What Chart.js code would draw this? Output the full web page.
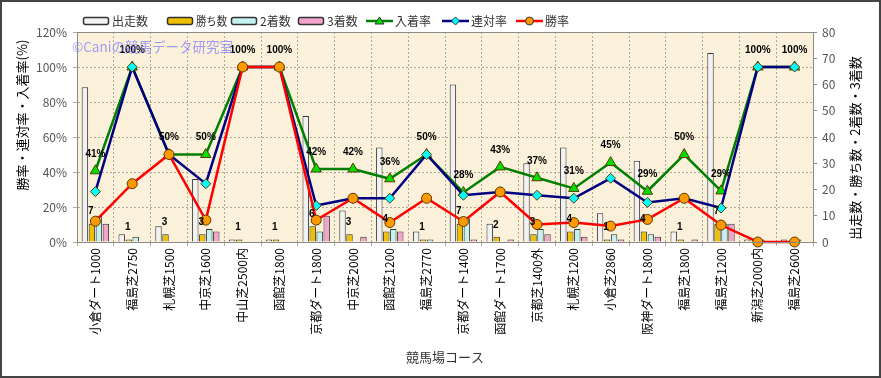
<!DOCTYPE html>
<html>
<head>
<meta charset="utf-8">
<script src="https://cdn.jsdelivr.net/npm/chart.js@4/dist/chart.umd.min.js"></script>
<style>
  html, body { margin: 0; padding: 0; background: #fff; }
  #wrap { width: 881px; height: 378px; }
</style>
</head>
<body>
<div id="wrap"><canvas id="raceChart" width="881" height="378"></canvas></div>
<script>
// ── コース別成績 ──
const courses = ['小倉ダート1000','福島芝2750','札幌芝1500','中京芝1600','中山芝2500内','函館芝1800','京都ダート1800','中京芝2000','函館芝1200','福島芝2770','京都ダート1400','函館ダート1700','京都芝1400外','札幌芝1200','小倉芝2860','阪神ダート1800','福島芝1800','福島芝1200','新潟芝2000内','福島芝2600'];
const starts  = [59, 3, 6, 24, 1, 1, 48, 12, 36, 4, 60, 7, 30, 36, 11, 31, 4, 72, 1, 1];
const wins    = [7, 1, 3, 3, 1, 1, 6, 3, 4, 1, 7, 2, 3, 4, 1, 4, 1, 7, 0, 0];
const seconds = [10, 2, 0, 5, 0, 0, 4, 0, 5, 1, 9, 0, 5, 5, 3, 3, 0, 7, 1, 1];
const thirds  = [7, 0, 0, 4, 0, 0, 10, 2, 4, 0, 1, 1, 3, 2, 1, 2, 1, 7, 0, 0];
const winRate   = [11.9, 33.3, 50, 12.5, 100, 100, 12.5, 25, 11.1, 25, 11.7, 28.6, 10, 11.1, 9.1, 12.9, 25, 9.7, 0, 0];
const rentaiRate = [28.8, 100, 50, 33.3, 100, 100, 20.8, 25, 25, 50, 26.7, 28.6, 26.7, 25, 36.4, 22.6, 25, 19.4, 100, 100];
const nyuchakuRate = [40.7, 100, 50, 50, 100, 100, 41.7, 41.7, 36.1, 50, 28.3, 42.9, 36.7, 30.6, 45.4, 29.0, 50, 29.2, 100, 100];
const pctTicks = [0, 20, 40, 60, 80, 100, 120];
const cntTicks = [0, 10, 20, 30, 40, 50, 60, 70, 80];

const JP = '"Noto Sans CJK JP", "Noto Sans", sans-serif';
Chart.defaults.font.family = JP;
Chart.defaults.color = '#333';

// plot background, axis titles, outer frame
const bgPlugin = {
  id: 'bg',
  beforeDraw(c) {
    const { ctx, chartArea: a } = c;
    ctx.save();
    ctx.fillStyle = '#fff';
    ctx.fillRect(0, 0, c.width, c.height);
    ctx.fillStyle = '#fbf1da';
    ctx.fillRect(a.left, a.top, a.right - a.left, a.bottom - a.top);
    ctx.restore();
  },
  afterDraw(c) {
    const { ctx, chartArea: a } = c;
    ctx.save();
    ctx.strokeStyle = '#8a8a8a'; ctx.lineWidth = 1;
    ctx.strokeRect(a.left + 0.5, a.top + 0.5, a.right - a.left, a.bottom - a.top);
    // axis titles
    ctx.fillStyle = '#000';
    ctx.font = '13px ' + JP;
    ctx.textAlign = 'center'; ctx.textBaseline = 'middle';
    ctx.save(); ctx.translate(22, 115); ctx.rotate(-Math.PI / 2);
    ctx.fillText('勝率・連対率・入着率(%)', 0, 0); ctx.restore();
    ctx.save(); ctx.translate(855, 148); ctx.rotate(-Math.PI / 2);
    ctx.fillText('出走数・勝ち数・2着数・3着数', 0, 0); ctx.restore();
    ctx.fillStyle = '#333';
    ctx.fillText('競馬場コース', 445, 357);
    ctx.strokeStyle = '#444'; ctx.lineWidth = 2;
    ctx.strokeRect(1, 1, c.width - 2, c.height - 2);
    ctx.restore();
  }
};

// data labels + watermark
const labelPlugin = {
  id: 'labels',
  afterDatasetsDraw(c) {
    const ctx = c.ctx;
    ctx.save();
    ctx.fillStyle = '#000';
    ctx.textAlign = 'center';
    ctx.textBaseline = 'middle';
    ctx.font = 'bold 10px "Liberation Sans", sans-serif';
    const winMeta = c.getDatasetMeta(1);
    wins.forEach((w, i) => {
      if (!w) return;
      const el = winMeta.data[i];
      ctx.fillText(String(w), el.x - 1, el.y - 12);
    });
    const nMeta = c.getDatasetMeta(4);
    nyuchakuRate.forEach((r, i) => {
      const el = nMeta.data[i];
      ctx.fillText(Math.round(r) + '%', el.x, el.y - 17);
    });
    ctx.font = '13.5px ' + JP;
    ctx.textAlign = 'left';
    ctx.fillStyle = 'rgba(120,120,255,0.7)';
    ctx.fillText('©Caniの競馬データ研究室', 72, 47);
    ctx.restore();
  }
};

// legend along the top
const legendPlugin = {
  id: 'topLegend',
  afterDraw(c) {
    const ctx = c.ctx;
    const y = 21;
    const items = [
      { t: '出走数', box: '#f2f2f2', x: 83 },
      { t: '勝ち数', box: '#f0c000', x: 167 },
      { t: '2着数', box: '#c4f2f0', x: 231 },
      { t: '3着数', box: '#f2a4cc', x: 298 },
      { t: '入着率', line: '#008000', pt: 'tri', fill: '#00e000', x: 366 },
      { t: '連対率', line: '#000080', pt: 'dia', fill: '#00ffff', x: 442 },
      { t: '勝率', line: '#ff0000', pt: 'cir', fill: '#ff9900', x: 516 },
      { x: 580 }
    ];
    ctx.save();
    ctx.font = '12px ' + JP;
    ctx.textBaseline = 'middle';
    items.forEach((it, k) => {
      if (!it.t) return;
      if (it.box) {
        ctx.fillStyle = it.box; ctx.strokeStyle = '#333'; ctx.lineWidth = 1.5;
        ctx.beginPath();
        ctx.roundRect(it.x + 0.5, y - 3.5, 25, 7, 2);
        ctx.fill(); ctx.stroke();
      } else {
        ctx.strokeStyle = it.line; ctx.lineWidth = 2.5;
        ctx.beginPath(); ctx.moveTo(it.x, y); ctx.lineTo(it.x + 27, y); ctx.stroke();
        const cx = it.x + 13.5;
        ctx.fillStyle = it.fill; ctx.strokeStyle = '#333'; ctx.lineWidth = 1;
        ctx.beginPath();
        if (it.pt === 'tri') { ctx.moveTo(cx, y - 4); ctx.lineTo(cx + 4.5, y + 3); ctx.lineTo(cx - 4.5, y + 3); ctx.closePath(); }
        else if (it.pt === 'dia') { ctx.moveTo(cx, y - 4); ctx.lineTo(cx + 4, y); ctx.lineTo(cx, y + 4); ctx.lineTo(cx - 4, y); ctx.closePath(); }
        else { ctx.arc(cx, y, 4, 0, Math.PI * 2); }
        ctx.fill(); ctx.stroke();
      }
      const tx = it.x + 29;
      ctx.fillStyle = '#333';
      ctx.fillText(it.t, tx, y, items[k + 1].x - tx - 4);
    });
    ctx.restore();
  }
};

const barDs = (label, data, color, order) => ({
  type: 'bar', label, data, yAxisID: 'y1', order,
  backgroundColor: color, borderColor: '#333', borderWidth: 1,
  barPercentage: 0.92, categoryPercentage: 0.76
});
const lineDs = (label, data, color, style, fill, radius, order) => ({
  type: 'line', label, data, yAxisID: 'y', order,
  borderColor: color, borderWidth: 2.5, tension: 0, clip: false,
  pointStyle: style, pointRadius: radius, pointBackgroundColor: fill,
  pointBorderColor: '#5a3a00', pointBorderWidth: 1
});

new Chart(document.getElementById('raceChart').getContext('2d'), {
  data: {
    labels: courses,
    datasets: [
      barDs('出走数', starts, '#f2f2f2', 4),
      barDs('勝ち数', wins, '#f0c000', 5),
      barDs('2着数', seconds, '#c4f2f0', 6),
      barDs('3着数', thirds, '#f2a4cc', 7),
      lineDs('入着率', nyuchakuRate, '#008000', 'triangle', '#00e000', 6, 3),
      lineDs('連対率', rentaiRate, '#000080', 'rectRot', '#00ffff', 5, 2),
      lineDs('勝率', winRate, '#ff0000', 'circle', '#ff9900', 5, 1)
    ]
  },
  options: {
    responsive: false,
    animation: false,
    layout: { padding: { top: 32, left: 0, right: 0, bottom: 0 } },
    plugins: { legend: { display: false }, tooltip: { enabled: false } },
    scales: {
      x: {
        grid: { color: '#b0a898', offset: true, drawTicks: true, tickLength: 4 },
        border: { dash: [2, 2], color: '#8a8a8a' },
        ticks: { maxRotation: 90, minRotation: 90, autoSkip: false, color: '#000', font: { size: 12 }, padding: 2 },
        afterFit: s => { s.height = 136; }
      },
      y: {
        position: 'left', min: 0, max: 120,
        afterBuildTicks: s => { s.ticks = pctTicks.map(v => ({ value: v })); },
        grid: { color: '#b0a898', tickLength: 4 },
        border: { dash: [2, 2], color: '#8a8a8a' },
        ticks: { callback: v => v + '%', color: '#555', font: { size: 12 }, padding: 6 },
        afterFit: s => { s.width = 77; }
      },
      y1: {
        position: 'right', min: 0, max: 80,
        afterBuildTicks: s => { s.ticks = cntTicks.map(v => ({ value: v })); },
        grid: { drawOnChartArea: false, tickLength: 4, color: '#8a8a8a' },
        border: { color: '#8a8a8a' },
        ticks: { color: '#555', font: { size: 12 }, padding: 5 },
        afterFit: s => { s.width = 68; }
      }
    }
  },
  plugins: [bgPlugin, labelPlugin, legendPlugin]
});
</script>
</body>
</html>
